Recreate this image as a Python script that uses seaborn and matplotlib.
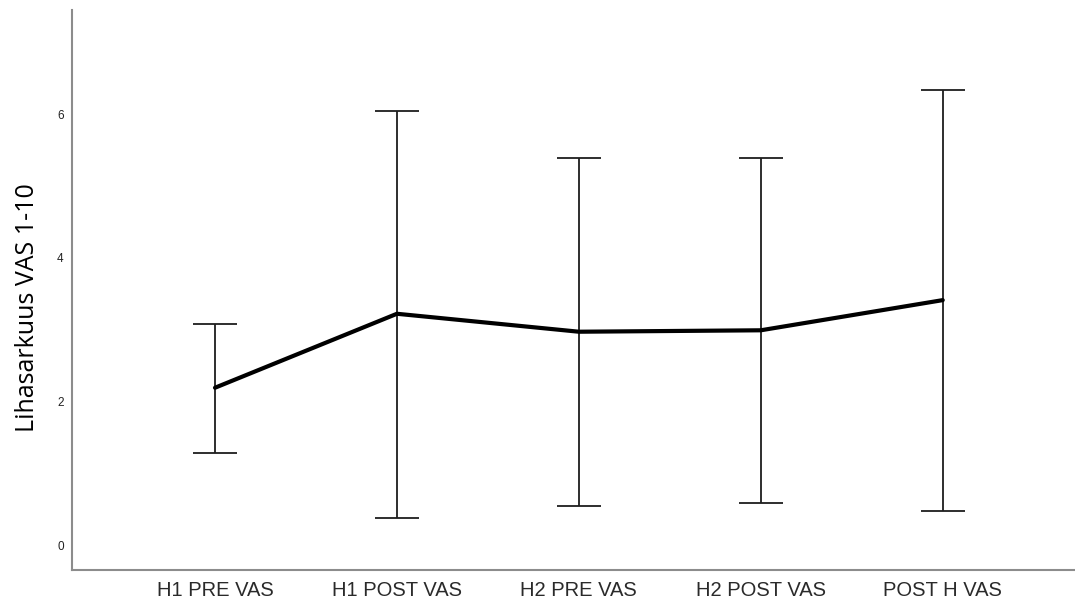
import numpy as np
import pandas as pd
import matplotlib
matplotlib.use("Agg")
import matplotlib.pyplot as plt
import seaborn as sns

# Pain VAS (1-10) at each measurement point: mean with interval bounds
categories = ["H1 PRE VAS", "H1 POST VAS", "H2 PRE VAS", "H2 POST VAS", "POST H VAS"]
means = [2.19, 3.22, 2.97, 2.99, 3.41]
upper = [3.08, 6.04, 5.39, 5.39, 6.34]
lower = [1.28, 0.38, 0.54, 0.58, 0.48]
y_ticks = [0, 2, 4, 6]
y_label = "Lihasarkuus VAS 1-10"

df = pd.DataFrame({"measure": categories, "vas": means})

sns.set_theme(style="white")
plt.rcParams["font.family"] = ["Liberation Sans", "DejaVu Sans"]

fig = plt.figure(figsize=(10.75, 6.02), dpi=100)
ax = fig.add_axes([72 / 1075, 1 - 570 / 602, 1 - 72 / 1075, (570 - 10) / 602])

# interval whiskers with caps
pos = np.arange(len(categories))
m = np.array(means)
yerr = np.vstack([m - np.array(lower), np.array(upper) - m])
ax.errorbar(pos, m, yerr=yerr, fmt="none", ecolor="#1e1e1e",
            elinewidth=1.3, capsize=16, capthick=1.3, zorder=2)

# mean profile
sns.pointplot(data=df, x="measure", y="vas", order=categories, color="black",
              markers="", linewidth=3, errorbar=None, ax=ax, zorder=3)

ax.set_xlim(-0.786, 4.727)
ax.set_ylim(-0.348, 7.45)
ax.set_yticks(y_ticks)
ax.set_yticklabels([str(t) for t in y_ticks], fontsize=8.5, color="#222222")
ax.set_xticks(pos)
ax.set_xticklabels(categories, fontsize=14.5, color="#2a2a2a")
ax.tick_params(axis="both", length=0)
ax.tick_params(axis="x", pad=8)
ax.tick_params(axis="y", pad=6)
ax.set_xlabel("")
ax.set_ylabel(y_label, fontsize=18, family=["Open Sans", "DejaVu Sans"],
              color="black")
ax.yaxis.set_label_coords(-0.032, 0.468)

for side in ["top", "right"]:
    ax.spines[side].set_visible(False)
for side in ["left", "bottom"]:
    ax.spines[side].set_color("#8c8c8c")
    ax.spines[side].set_linewidth(1.5)

fig.savefig("out.png", dpi=100)
